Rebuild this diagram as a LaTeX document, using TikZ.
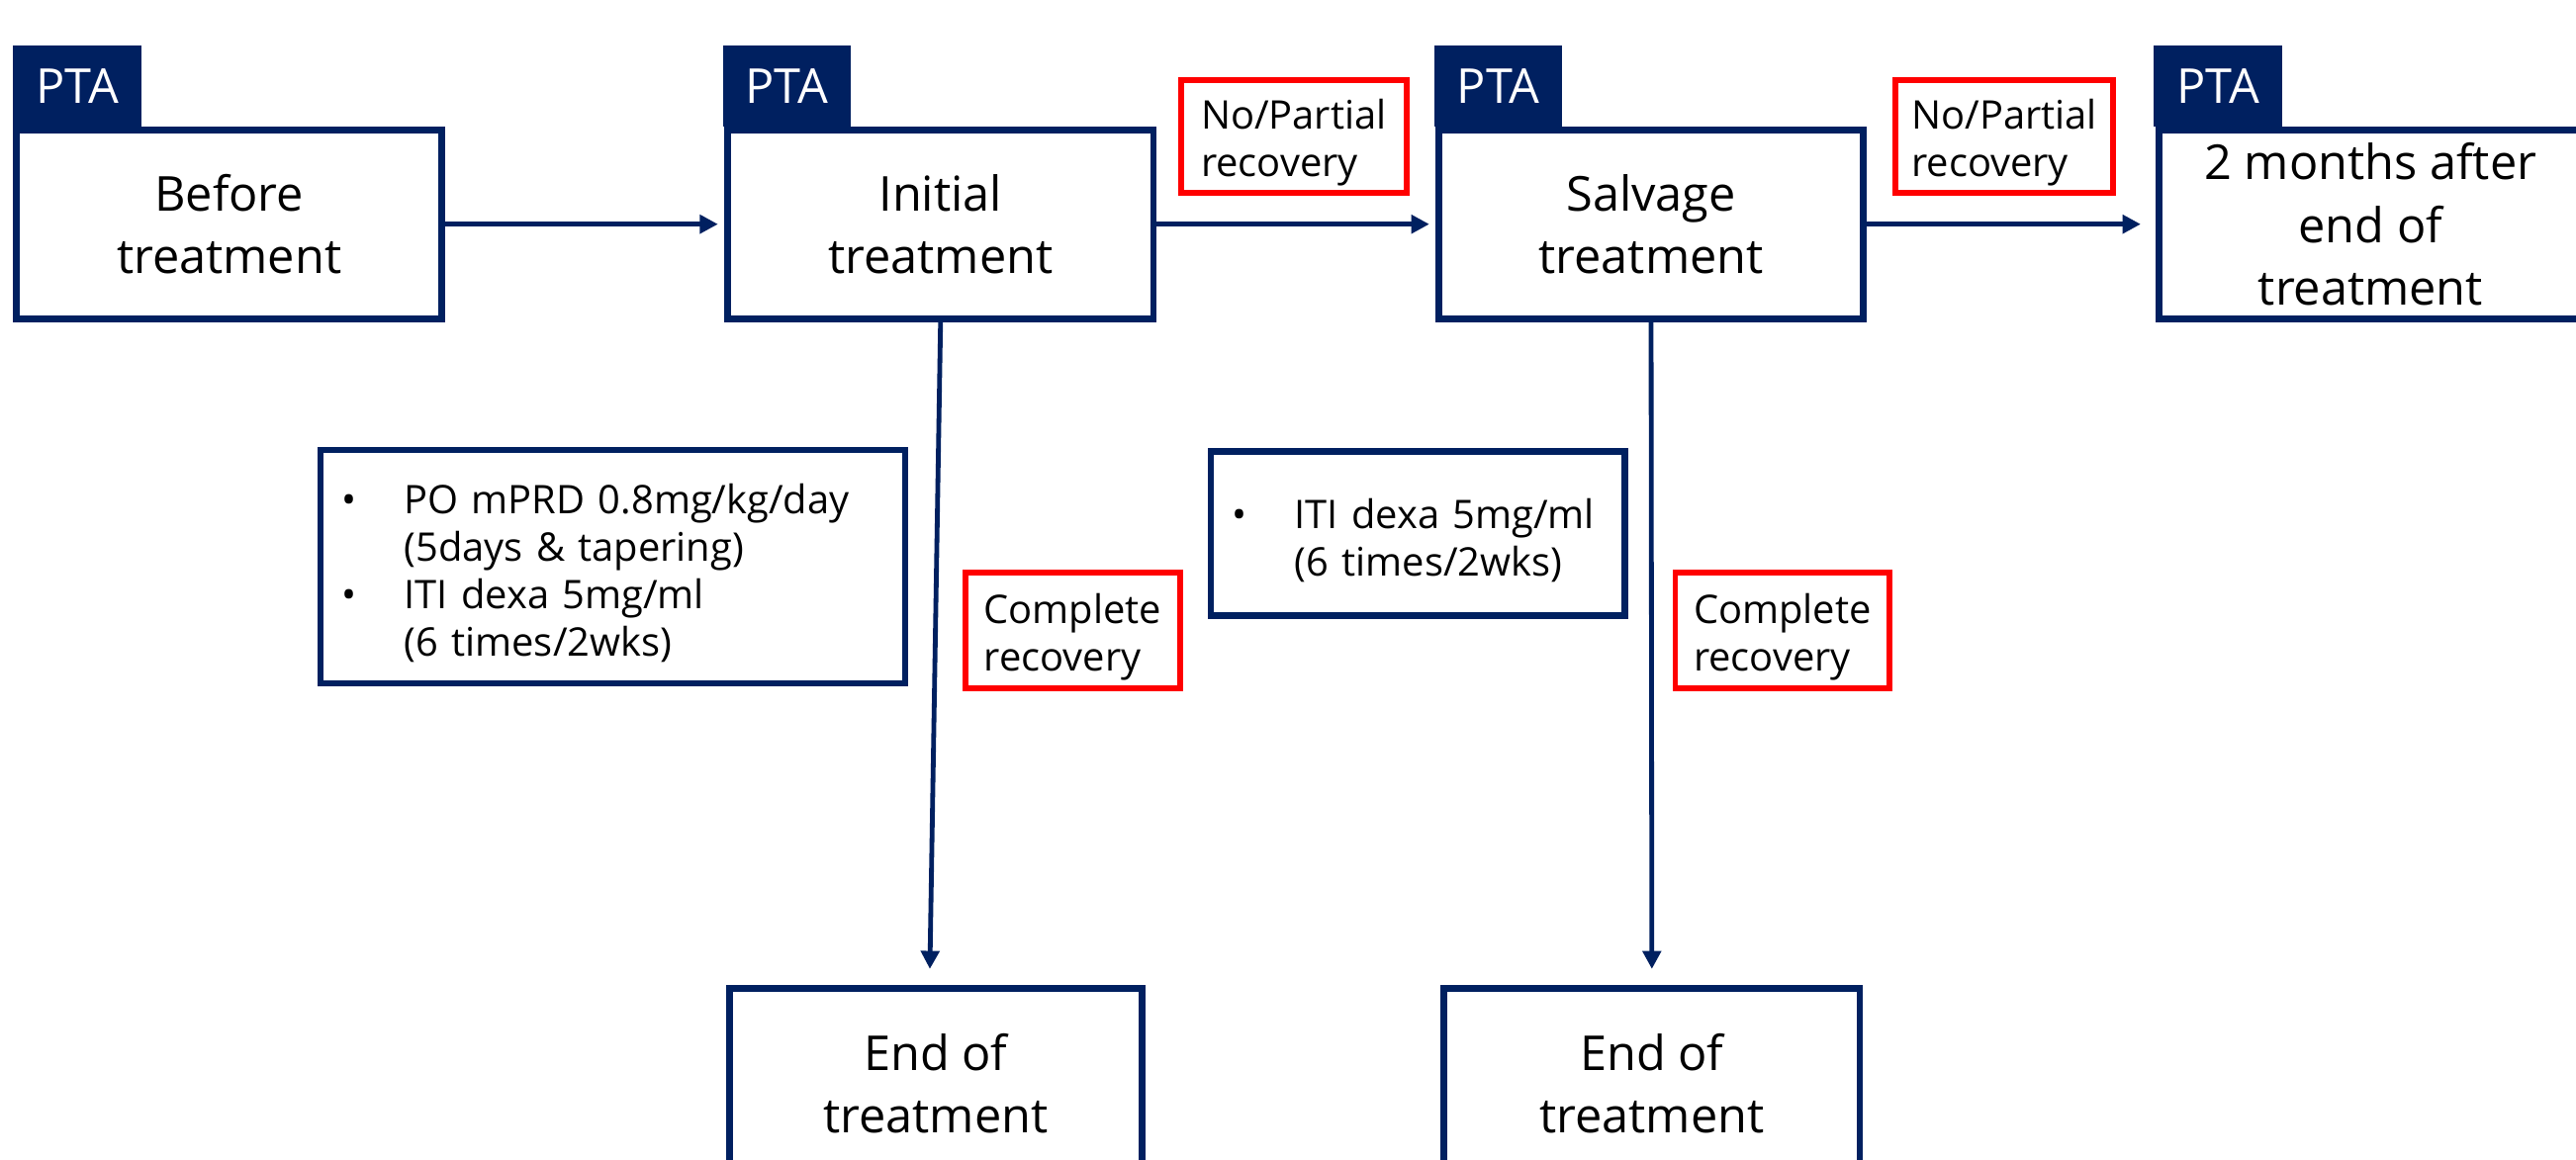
\documentclass[tikz,border=0pt]{standalone}
\usepackage{fontspec}
\setmainfont{Open Sans}
\usetikzlibrary{arrows.meta,calc}
\definecolor{navy}{HTML}{002060}
\definecolor{redc}{HTML}{FF0000}
\newcommand\firstln{\rule{0pt}{26pt}}
\begin{document}
\begin{tikzpicture}[x=1pt,y=-1pt,
  stage/.style={draw=navy, line width=4pt, fill=white, minimum width=259pt, minimum height=115pt, align=center, inner sep=0pt, font=\fontsize{29.3}{38}\selectfont},
  tab/.style={fill=navy, text=white, minimum width=78pt, minimum height=49pt, inner sep=0pt, font=\fontsize{29.3}{38}\selectfont},
  redbox/.style={draw=redc, line width=3.5pt, align=left, inner sep=0pt, font=\fontsize{24}{29}\selectfont},
  infobox/.style={draw=navy, line width=4pt, align=left, inner xsep=13pt, inner ysep=0pt, font=\fontsize{24}{29}\selectfont},
  flow/.style={draw=navy, line width=2.9pt, -{Triangle[length=11pt,width=11pt]}},
]
\useasboundingbox (0,0) rectangle (1568,706);
\clip (0,0) rectangle (1568,706);
\fill[white] (0,0) rectangle (1568,706);

% tabs
\node[tab] (t1) at (47,52.5) {PTA};
\node[tab] (t2) at (479,52.5) {PTA};
\node[tab] (t3) at (912,52.5) {PTA};
\node[tab] (t4) at (1350,52.5) {PTA};

% stage boxes
\node[stage] (b1) at (139.5,136.5) {Before\\treatment};
\node[stage] (b2) at (572.5,136.5) {Initial\\treatment};
\node[stage, minimum width=258pt] (b3) at (1005,136.5) {Salvage\\treatment};
\node[stage, minimum width=258pt] (b4) at (1443,136.5) {2 months after\\end of\\treatment};

% red labels
\node[redbox, minimum width=137.5pt, minimum height=68.5pt] (r1) at (787.5,83) {\firstln No/Partial\\recovery};
\node[redbox, minimum width=132.5pt, minimum height=68.5pt] (r2) at (1220,83) {\firstln No/Partial\\recovery};
\node[redbox, minimum width=130.5pt, minimum height=70.5pt] (c1) at (653,384) {\firstln Complete\\recovery};
\node[redbox, minimum width=130.5pt, minimum height=70.5pt] (c2) at (1085,384) {\firstln Complete\\recovery};

% info boxes
\node[infobox, text width=330pt, minimum height=142pt] (i1) at (373,345)
  {\firstln\makebox[38pt][l]{\textbullet}PO mPRD 0.8mg/kg/day\\
   \hspace*{38pt}(5days \& tapering)\\
   \makebox[38pt][l]{\textbullet}ITI dexa 5mg/ml\\
   \hspace*{38pt}(6 times/2wks)};
\node[infobox, text width=226pt, minimum height=100pt] (i2) at (863,325)
  {\firstln\makebox[38pt][l]{\textbullet}ITI dexa 5mg/ml\\
   \hspace*{38pt}(6 times/2wks)};

% end boxes
\node[stage, minimum width=251pt] (e1) at (569.5,659.5) {End of\\treatment};
\node[stage, minimum width=253pt] (e2) at (1005.5,659.5) {End of\\treatment};

% connectors
\coordinate (e1tip) at (566,590);
\draw[flow, shorten >=4pt] (b1.east) -- (b2.west);
\draw[flow, shorten >=4pt] (b2.east) -- (b3.west);
\draw[flow, shorten >=9pt] (b3.east) -- (b4.west);
\draw[flow] (b2.south) -- (e1tip);
\draw[flow, shorten >=10pt] (b3.south) -- (e2.north);
\end{tikzpicture}
\end{document}
